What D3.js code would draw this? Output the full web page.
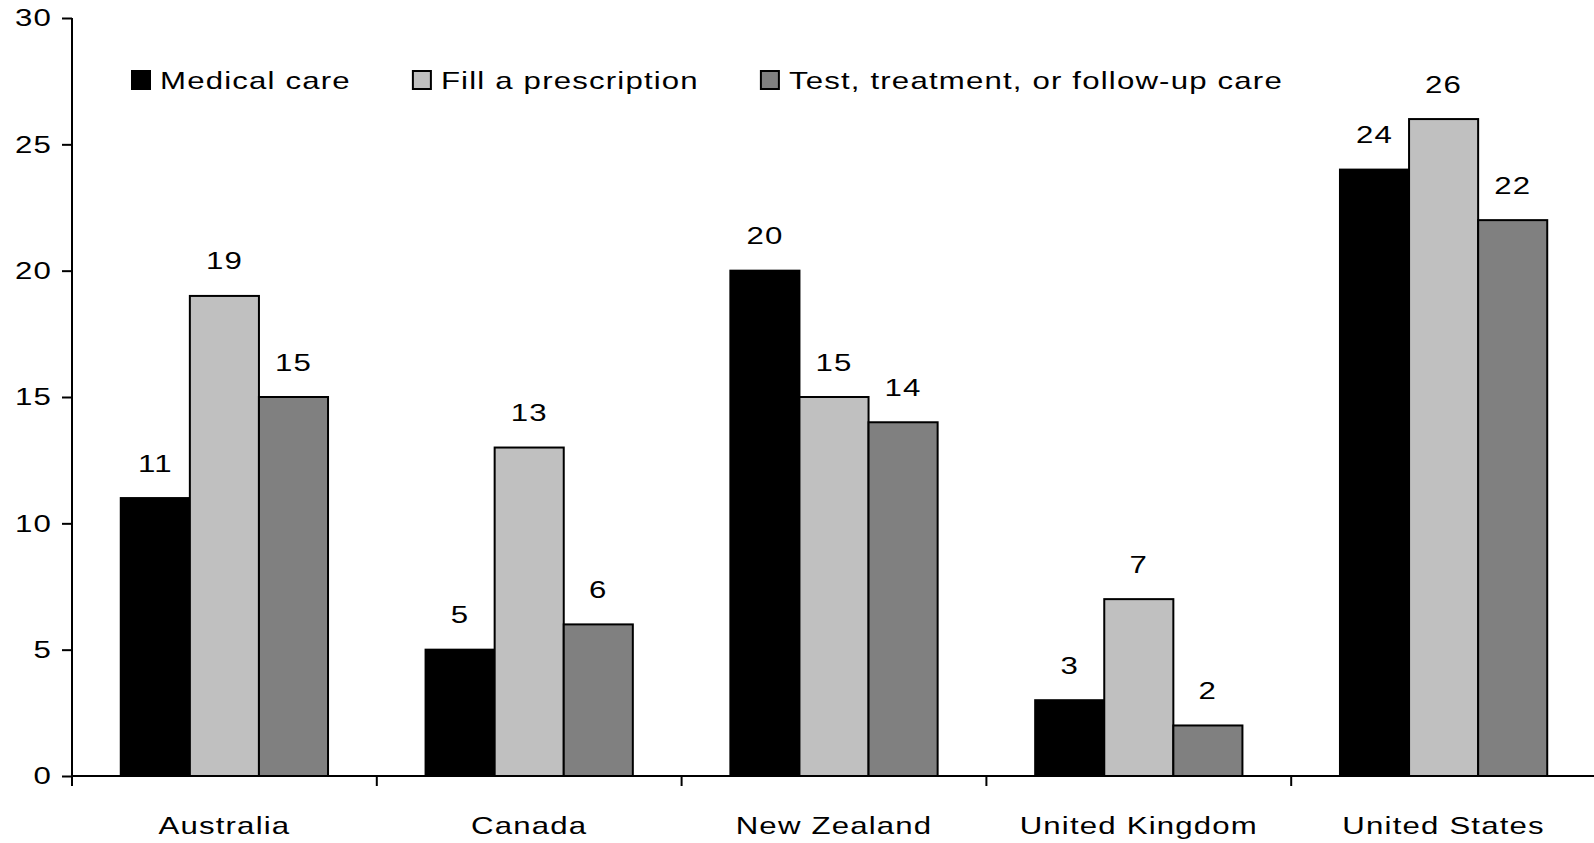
<!DOCTYPE html>
<html>
<head>
<meta charset="utf-8">
<script src="https://cdn.jsdelivr.net/npm/d3@7"></script>
<style>
  html, body { margin: 0; padding: 0; background: #fff; }
  svg { display: block; }
  text { font-family: "Liberation Sans", Arial, sans-serif; font-size: 24px; fill: #000; }
</style>
</head>
<body>
<svg id="chart" width="1594" height="843"></svg>
<script>
// Share of adults who skipped care because of cost, by country (percent)
const countries = ["Australia", "Canada", "New Zealand", "United Kingdom", "United States"];
const seriesNames = ["Medical care", "Fill a prescription", "Test, treatment, or follow-up care"];
const medicalCare = [11, 5, 20, 3, 24];
const fillPrescription = [19, 13, 15, 7, 26];
const testTreatment = [15, 6, 14, 2, 22];
const yTicks = [0, 5, 10, 15, 20, 25, 30];

const seriesValues = [medicalCare, fillPrescription, testTreatment];
const seriesFill = ["#000000", "#c0c0c0", "#808080"];

const plot = { left: 72, right: 1596, top: 18, bottom: 776 };
const SX = 1.3;           // horizontal stretch of the lettering
const LS = 0.9;           // letter spacing (local units)

const svg = d3.select("#chart");

const x0 = d3.scaleBand().domain(countries).range([plot.left, plot.right])
  .paddingInner(0.32).paddingOuter(0.16);
const x1 = d3.scaleBand().domain(d3.range(seriesNames.length)).range([0, x0.bandwidth()]);
const y = d3.scaleLinear().domain([0, 30]).range([plot.bottom, plot.top]);

// widen each text glyph run around its anchor point
function stretch(sel) {
  sel.each(function () {
    const t = d3.select(this);
    const tx = +t.attr("x") || 0, ty = +t.attr("y") || 0;
    t.attr("x", 0).attr("y", 0)
     .attr("transform", `translate(${tx},${ty}) scale(${SX},1)`)
     .style("letter-spacing", LS + "px");
  });
}

// bars
const rows = countries.map((c, i) => ({ c, vals: seriesValues.map(s => s[i]) }));
const groups = svg.append("g").selectAll("g").data(rows).join("g")
  .attr("transform", d => `translate(${x0(d.c)},0)`);

groups.selectAll("rect").data(d => d.vals.map((v, k) => ({ v, k }))).join("rect")
  .attr("x", d => x1(d.k))
  .attr("y", d => y(d.v))
  .attr("width", x1.bandwidth())
  .attr("height", d => y(0) - y(d.v))
  .attr("fill", d => seriesFill[d.k])
  .attr("stroke", "#000")
  .attr("stroke-width", 2);

groups.selectAll("text").data(d => d.vals.map((v, k) => ({ v, k }))).join("text")
  .attr("x", d => x1(d.k) + x1.bandwidth() / 2)
  .attr("y", d => y(d.v) - 26.5)
  .attr("text-anchor", "middle")
  .text(d => d.v)
  .call(stretch);

// y axis
const yAxis = svg.append("g").attr("transform", `translate(${plot.left},0)`)
  .call(d3.axisLeft(y).tickValues(yTicks).tickSize(10).tickPadding(10).tickSizeOuter(0));
yAxis.select(".domain").attr("stroke-width", 2).attr("d", `M0,${plot.top}V${plot.bottom + 10}`);
yAxis.selectAll(".tick line").attr("stroke-width", 2);
yAxis.selectAll(".tick text").attr("font-size", null).attr("font-family", null).call(stretch);

// x axis: labels at band centres, tick marks at band boundaries
const xAxis = svg.append("g").attr("transform", `translate(0,${plot.bottom})`)
  .call(d3.axisBottom(x0).tickSize(0).tickPadding(41).tickSizeOuter(0));
xAxis.select(".domain").attr("stroke-width", 2).attr("d", `M${plot.left},0H${plot.right}`);
xAxis.selectAll(".tick text").attr("font-size", null).attr("font-family", null).call(stretch);
xAxis.selectAll("line.bound").data(countries.slice(1)).join("line")
  .attr("class", "bound")
  .attr("x1", d => x0(d) - x0.step() * x0.paddingInner() / 2)
  .attr("x2", d => x0(d) - x0.step() * x0.paddingInner() / 2)
  .attr("y1", 0).attr("y2", 10)
  .attr("stroke", "#000").attr("stroke-width", 2);

// legend
const legend = svg.append("g").attr("transform", "translate(131,70)");
let lx = 0;
seriesNames.forEach((name, k) => {
  const item = legend.append("g").attr("transform", `translate(${lx},0)`);
  item.append("rect").attr("x", 1).attr("y", 1).attr("width", 18).attr("height", 18)
    .attr("fill", seriesFill[k]).attr("stroke", "#000").attr("stroke-width", 2);
  const t = item.append("text").attr("x", 29).attr("y", 19).text(name).call(stretch);
  const w = t.node().getComputedTextLength() * SX;
  lx += 29 + w + 61;
});
</script>
</body>
</html>
